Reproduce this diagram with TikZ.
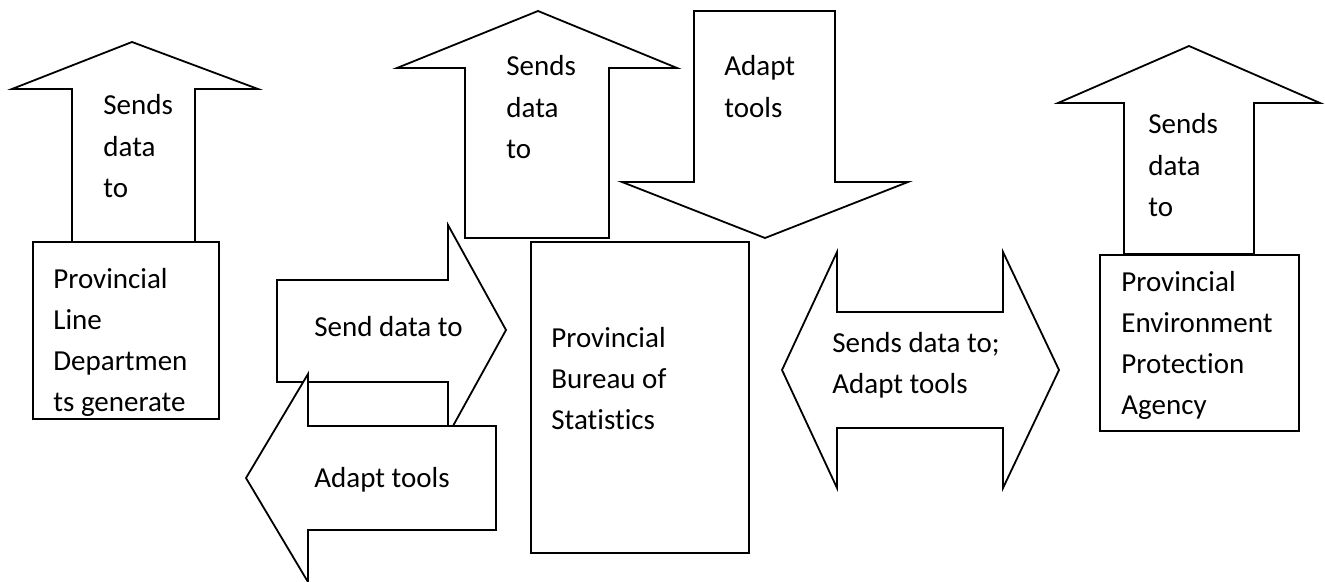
\documentclass[tikz,border=0pt]{standalone}
\usepackage{fontspec}
\setmainfont{Carlito}[Ligatures={NoCommon}]
\begin{document}
\begin{tikzpicture}[x=0.5pt,y=-0.5pt,
  shapeline/.style={draw=black,fill=white,line width=0.9pt,line join=miter},
  boxnode/.style={draw=black,fill=white,line width=0.9pt,inner sep=0pt,anchor=north west},
  lbl/.style={anchor=base west,align=left,inner sep=0pt,font=\fontsize{14.5pt}{20.65pt}\selectfont}]
\useasboundingbox (0,0) rectangle (1325,582);

% left: Provincial Line Departments
\node[boxnode,minimum width=93pt,minimum height=88.5pt] (lineDept) at (32,241) {};
\draw[shapeline] (72,242) -- (72,89) -- (12,89) -- (132,42) -- (258,89) -- (195,89) -- (195,242) -- cycle;

% middle up arrow and down arrow
\draw[shapeline] (465,238) -- (465,68) -- (397,68) -- (538,11) -- (677,68) -- (609,68) -- (609,238) -- cycle;
\draw[shapeline] (694,11) -- (835,11) -- (835,182) -- (908,182) -- (765,238) -- (622,182) -- (694,182) -- cycle;

% bureau box
\node[boxnode,minimum width=109pt,minimum height=155.5pt] (bureau) at (530,241) {};

% send / adapt horizontal arrows
\draw[shapeline] (277,280) -- (448,280) -- (448,225) -- (506,330) -- (448,435) -- (448,382) -- (277,382) -- cycle;
\draw[shapeline] (496,426) -- (496,530) -- (308,530) -- (308,582) -- (246,478) -- (308,374) -- (308,426) -- cycle;

% double arrow
\draw[shapeline] (782,370) -- (837,252) -- (837,312) -- (1003,312) -- (1003,252) -- (1059,370) -- (1003,488) -- (1003,428) -- (837,428) -- (837,488) -- cycle;

% right: EPA
\node[boxnode,minimum width=99.5pt,minimum height=88pt] (epa) at (1099,254) {};
\draw[shapeline] (1124,254) -- (1124,103) -- (1058,103) -- (1189,46) -- (1320,103) -- (1254,103) -- (1254,254) -- cycle;

% texts (base anchor = baseline of last line)
\node[lbl] (tUpL) at (103,197.6) {Sends\\data\\to};
\node[lbl] (tLine) at (53,411.9) {Provincial\\Line\\Departmen\\ts generate};
\node[lbl] (tSend) at (314,336) {Send data to};
\node[lbl] (tAdaptL) at (314,487) {Adapt tools};
\node[lbl] (tUpM) at (506,158.6) {Sends\\data\\to};
\node[lbl] (tDown) at (724,117.3) {Adapt\\tools};
\node[lbl] (tBureau) at (551,429.6) {Provincial\\Bureau of\\Statistics};
\node[lbl] (tBoth) at (832,393.3) {Sends data to;\\Adapt tools};
\node[lbl] (tUpR) at (1148,216.6) {Sends\\data\\to};
\node[lbl] (tEpa) at (1121,414.9) {Provincial\\Environment\\Protection\\Agency};
\end{tikzpicture}
\end{document}
